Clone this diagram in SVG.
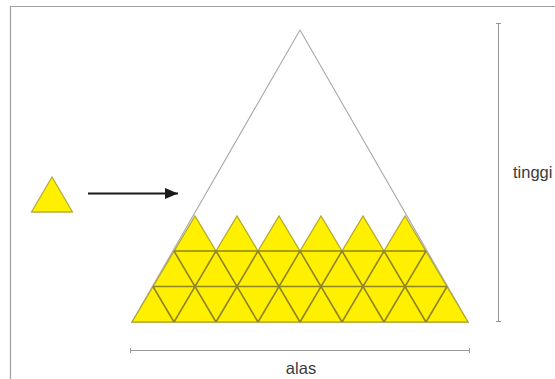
<svg xmlns="http://www.w3.org/2000/svg" width="555" height="379" viewBox="0 0 555 379">
<defs>
<marker id="head" markerUnits="userSpaceOnUse" markerWidth="14" markerHeight="14" refX="13" refY="7" orient="auto"><path d="M0 1.5L13 7L0 12.5Z" fill="#1a1a1a"/></marker>
</defs>
<style>
.frame{fill:none;stroke:#a0a0a0;stroke-width:1.2}
.outline{fill:none;stroke:#a8a8a8;stroke-width:1.1}
.fill{fill:#fff000;stroke:none}
.mesh{fill:none;stroke:#8f8420;stroke-width:1.6}
.rim{fill:none;stroke:#b5a92c;stroke-width:1.3}
.small{fill:#fff000;stroke:#b8ab3c;stroke-width:1.3}
.dim{fill:none;stroke:#999;stroke-width:1}
.arrow{fill:none;stroke:#1a1a1a;stroke-width:1.8;marker-end:url(#head)}
text{font-family:"Liberation Sans",Arial,sans-serif;font-size:16.5px;fill:#3a3a3a}
</style>
<rect width="555" height="379" fill="#fff"/>
<path class="frame" d="M10.5 379V6.5H555"/>
<g id="big-triangle">
<path class="outline" d="M300 30L468 322H132Z"/>
</g>
<g id="filled-triangles">
<path class="fill" d="M132 322L195 216L216 251L237 216L258 251L279 216L300 251L321 216L342 251L363 216L384 251L405 216L468 322Z"/>
<path class="rim" d="M132 322H468L405 216L384 251L363 216L342 251L321 216L300 251L279 216L258 251L237 216L216 251L195 216Z"/>
<path class="mesh" d="M153 286.5H447M174 251H426"/>
<path class="mesh" d="M174 322L216 251M216 322L258 251M258 322L300 251M300 322L342 251M342 322L384 251M384 322L426 251M426 322L447 286.5"/>
<path class="mesh" d="M174 251L216 322M216 251L258 322M258 251L300 322M300 251L342 322M342 251L384 322M384 251L426 322M153 286.5L174 322"/>
</g>
<g id="small-triangle">
<path class="small" d="M52 177L72.5 212H31.5Z"/>
</g>
<g id="connectors">
<path class="arrow" d="M88 193.5H178"/>
<path class="dim" d="M498.5 23.5V321.5M496 23.5H501M496 321.5H501"/>
<path class="dim" d="M130.5 350.5H469.5M130.5 348V353M469.5 348V353"/>
</g>
<g id="label-tinggi"><text x="513" y="178">tinggi</text></g>
<g id="label-alas"><text x="301" y="374" text-anchor="middle">alas</text></g>
</svg>
